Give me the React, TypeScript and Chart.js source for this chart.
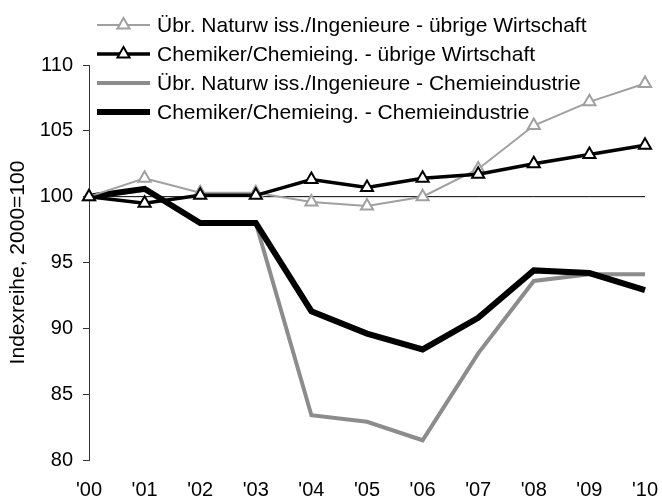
import React, { useEffect, useRef } from "react";
import { Chart, registerables } from "chart.js";

Chart.register(...registerables);

const years = ["'00", "'01", "'02", "'03", "'04", "'05", "'06", "'07", "'08", "'09", "'10"];
const uebrNatOther = [100, 101.4, 100.3, 100.3, 99.6, 99.3, 100.0, 102.1, 105.4, 107.2, 108.6];
const chemOther = [100, 99.5, 100.1, 100.1, 101.3, 100.7, 101.4, 101.7, 102.5, 103.2, 103.9];
const uebrNatChem = [100, 100.5, 98, 98, 83.4, 82.9, 81.5, 88.1, 93.6, 94.1, 94.1];
const chemChem = [100, 100.6, 98, 98, 91.3, 89.6, 88.4, 90.8, 94.4, 94.2, 92.9];
const reference = [100, 100, 100, 100, 100, 100, 100, 100, 100, 100, 100];
const seriesLabels = [
  "Übr. Naturw iss./Ingenieure - übrige Wirtschaft",
  "Chemiker/Chemieing. - übrige Wirtschaft",
  "Übr. Naturw iss./Ingenieure - Chemieindustrie",
  "Chemiker/Chemieing. - Chemieindustrie",
];
const yTitle = "Indexreihe, 2000=100";

const FONT = "'Liberation Sans', Arial, sans-serif";

const legendPlugin = {
  id: "customLegend",
  afterDraw(chart: any) {
    const ctx = chart.ctx;
    const x0 = 97;
    const x1 = 150;
    const rows = [25, 54, 83, 112];
    ctx.save();
    ctx.font = `21px ${FONT}`;
    ctx.textBaseline = "middle";
    ctx.textAlign = "left";
    for (let i = 0; i < 4; i++) {
      const ds = chart.data.datasets[i];
      const y = rows[i];
      ctx.strokeStyle = ds.borderColor;
      ctx.lineWidth = ds.borderWidth;
      ctx.beginPath();
      ctx.moveTo(x0, y);
      ctx.lineTo(x1, y);
      ctx.stroke();
      if (ds.pointRadius > 0) {
        const r = ds.pointRadius;
        const cx = (x0 + x1) / 2;
        ctx.beginPath();
        for (let k = 0; k < 3; k++) {
          const a = (k * 2 * Math.PI) / 3;
          const px = cx + Math.sin(a) * r;
          const py = y - Math.cos(a) * r;
          if (k === 0) ctx.moveTo(px, py);
          else ctx.lineTo(px, py);
        }
        ctx.closePath();
        ctx.fillStyle = "#ffffff";
        ctx.fill();
        ctx.lineWidth = ds.pointBorderWidth;
        ctx.strokeStyle = ds.pointBorderColor;
        ctx.stroke();
      }
      ctx.fillStyle = "#000000";
      ctx.fillText(ds.label, x1 + 7, y + 1);
    }
    ctx.restore();
  },
};

export default function App() {
  const ref = useRef<HTMLCanvasElement | null>(null);
  useEffect(() => {
    if (!ref.current) return;
    const chart = new Chart(ref.current, {
      type: "line",
      data: {
        labels: years,
        datasets: [
          {
            label: seriesLabels[0],
            data: uebrNatOther,
            borderColor: "#a0a0a0",
            borderWidth: 2,
            pointStyle: "triangle",
            pointRadius: 7,
            pointBackgroundColor: "#ffffff",
            pointBorderColor: "#a0a0a0",
            pointBorderWidth: 2,
            order: 1,
          },
          {
            label: seriesLabels[1],
            data: chemOther,
            borderColor: "#000000",
            borderWidth: 3.5,
            pointStyle: "triangle",
            pointRadius: 7,
            pointBackgroundColor: "#ffffff",
            pointBorderColor: "#000000",
            pointBorderWidth: 2,
            order: 0,
          },
          {
            label: seriesLabels[2],
            data: uebrNatChem,
            borderColor: "#8c8c8c",
            borderWidth: 4,
            pointRadius: 0,
            order: 3,
          },
          {
            label: seriesLabels[3],
            data: chemChem,
            borderColor: "#000000",
            borderWidth: 6,
            pointRadius: 0,
            order: 2,
          },
          {
            label: "ref",
            data: reference,
            borderColor: "#000000",
            borderWidth: 1,
            pointRadius: 0,
            order: 4,
          },
        ],
      },
      options: {
        animation: false,
        responsive: false,
        events: [],
        layout: { padding: { left: 0, right: 17, top: 65, bottom: 0 } },
        plugins: { legend: { display: false }, tooltip: { enabled: false } },
        elements: { line: { tension: 0, borderJoinStyle: "miter" } },
        scales: {
          x: {
            offset: false,
            grid: { display: false, drawTicks: false },
            border: { display: false },
            ticks: { color: "#000", font: { family: FONT, size: 20 }, padding: 18, maxRotation: 0, autoSkip: false },
            afterFit: (s: any) => { s.height = 40; s.paddingLeft = 0; s.paddingRight = 0; },
          },
          y: {
            min: 80,
            max: 110,
            grid: { drawOnChartArea: false, drawTicks: true, tickLength: 6, color: "#333", tickColor: "#333" },
            border: { display: true, color: "#333", width: 1 },
            ticks: { stepSize: 5, color: "#000", font: { family: FONT, size: 20 }, padding: 10 },
            title: { display: true, text: yTitle, color: "#000", font: { family: FONT, size: 21, lineHeight: 1 }, padding: { top: 8, bottom: 0 } },
            afterFit: (s: any) => { s.width = 89; },
          },
        },
      },
      plugins: [legendPlugin],
    });
    return () => chart.destroy();
  }, []);
  return (
    <canvas
      ref={ref}
      width={662}
      height={500}
      style={{ display: "block", position: "fixed", left: 0, top: 0 }}
    />
  );
}
